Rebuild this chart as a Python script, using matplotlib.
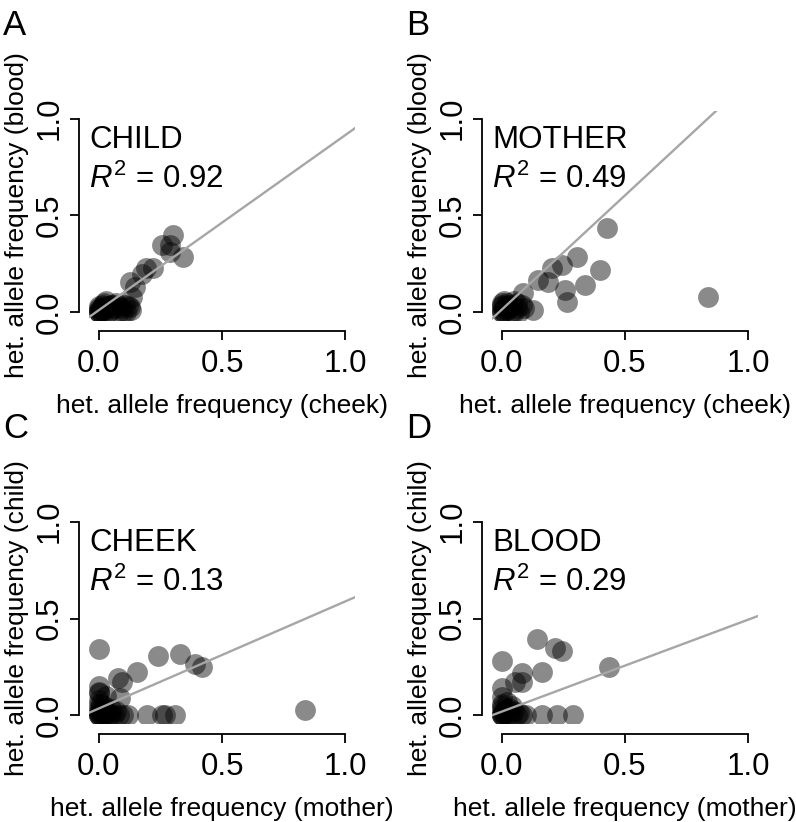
import matplotlib
matplotlib.use("Agg")
import numpy as np
import matplotlib.pyplot as plt

plt.rcParams['font.family'] = ['Liberation Sans', 'DejaVu Sans']
plt.rcParams['mathtext.fontset'] = 'custom'
plt.rcParams['mathtext.rm'] = 'Liberation Sans'
plt.rcParams['mathtext.it'] = 'Liberation Sans:italic'

# A: child, cheek vs blood
a_x = [0.30, 0.256, 0.29, 0.34, 0.29, 0.19, 0.22, 0.175, 0.126, 0.146, 0.135, 0.105, 0.126,
       0.0, 0.0, 0.01, 0.02, 0.03, 0.05, 0.06, 0.08, 0.04, 0.02, 0.0, 0.07, 0.09, 0.10, 0.0,
       0.01, 0.12, 0.13, 0.03, 0.05, 0.015, 0.0, 0.0, 0.01, 0.02, 0.04, 0.06, 0.08, 0.11]
a_y = [0.40, 0.347, 0.35, 0.285, 0.31, 0.23, 0.23, 0.20, 0.155, 0.13, 0.078, 0.036, 0.026,
       0.0, 0.0, 0.02, 0.05, 0.06, 0.04, 0.02, 0.0, 0.0, 0.01, 0.03, 0.05, 0.02, 0.0, 0.01,
       0.0, 0.03, 0.01, 0.03, 0.01, 0.04, 0.0, 0.02, 0.01, 0.0, 0.03, 0.04, 0.03, 0.0]

# B: mother, cheek vs blood
b_x = [0.427, 0.305, 0.244, 0.203, 0.146, 0.187, 0.398, 0.337, 0.256, 0.264, 0.837, 0.085,
       0.0, 0.0, 0.01, 0.02, 0.03, 0.05, 0.06, 0.08, 0.04, 0.0, 0.02, 0.07, 0.09, 0.126,
       0.01, 0.05, 0.03, 0.0, 0.0, 0.01, 0.02, 0.04, 0.06, 0.0]
b_y = [0.435, 0.285, 0.244, 0.228, 0.166, 0.155, 0.218, 0.14, 0.114, 0.052, 0.078, 0.10,
       0.0, 0.03, 0.0, 0.05, 0.02, 0.06, 0.02, 0.04, 0.0, 0.01, 0.03, 0.0, 0.02, 0.01,
       0.06, 0.0, 0.04, 0.05, 0.0, 0.02, 0.01, 0.03, 0.05, 0.04]

# C: cheek, mother vs child
c_x = [0.0, 0.24, 0.33, 0.39, 0.42, 0.154, 0.077, 0.093, 0.085, 0.837,
       0.0, 0.02, 0.04, 0.06, 0.08, 0.10, 0.12, 0.195, 0.256, 0.268, 0.309,
       0.0, 0.0, 0.0, 0.0, 0.0, 0.02, 0.05, 0.03, 0.01, 0.0, 0.01, 0.07, 0.04,
       0.0, 0.0, 0.01, 0.02, 0.03, 0.05, 0.0, 0.0]
c_y = [0.34, 0.305, 0.316, 0.263, 0.247, 0.226, 0.195, 0.174, 0.09, 0.026,
       0.0, 0.0, 0.0, 0.0, 0.0, 0.0, 0.0, 0.0, 0.0, 0.0, 0.0,
       0.15, 0.115, 0.08, 0.04, 0.01, 0.05, 0.03, 0.10, 0.02, 0.0, 0.0, 0.02, 0.01,
       0.0, 0.02, 0.06, 0.0, 0.01, 0.0, 0.12, 0.06]

# D: blood, mother vs child
d_x = [0.142, 0.215, 0.244, 0.0, 0.163, 0.081, 0.053, 0.081, 0.435, 0.0, 0.0,
       0.0, 0.02, 0.04, 0.06, 0.08, 0.10, 0.163, 0.224, 0.29,
       0.0, 0.0, 0.01, 0.03, 0.05, 0.02, 0.07, 0.0, 0.04, 0.01,
       0.0, 0.0, 0.01, 0.02, 0.03, 0.0]
d_y = [0.395, 0.35, 0.33, 0.28, 0.226, 0.22, 0.174, 0.174, 0.247, 0.142, 0.095,
       0.0, 0.0, 0.0, 0.0, 0.0, 0.0, 0.0, 0.0, 0.0,
       0.06, 0.03, 0.01, 0.04, 0.02, 0.07, 0.01, 0.0, 0.05, 0.02,
       0.0, 0.01, 0.0, 0.03, 0.0, 0.05]

# regression lines (intercept, slope) and R^2
fits = [(0.011, 0.904), (0.014, 1.18), (0.035, 0.553), (0.019, 0.475)]
r2 = ["0.92", "0.49", "0.13", "0.29"]
names = ["CHILD", "MOTHER", "CHEEK", "BLOOD"]
letters = ["A", "B", "C", "D"]
xlabels = ["het. allele frequency (cheek)", "het. allele frequency (cheek)",
           "het. allele frequency (mother)", "het. allele frequency (mother)"]
ylabels = ["het. allele frequency (blood)", "het. allele frequency (blood)",
           "het. allele frequency (child)", "het. allele frequency (child)"]
ticks = [0.0, 0.5, 1.0]
tick_labels = ["0.0", "0.5", "1.0"]

xs = [a_x, b_x, c_x, d_x]
ys = [a_y, b_y, c_y, d_y]

W, H = 796, 822
fig = plt.figure(figsize=(W / 100, H / 100), dpi=100)

for i in range(4):
    col, row = i % 2, i // 2
    left = (89 + 403 * col) / W
    bottom = (822 - 320 - 403 * row) / H
    ax = fig.add_axes([left, bottom, 266 / W, 209 / H])
    ax.set_xlim(-0.04, 1.04)
    ax.set_ylim(-0.04, 1.04)

    ax.scatter(xs[i], ys[i], s=225, color='black', alpha=0.46, linewidths=0, zorder=2)
    b, m = fits[i]
    ax.axline((0, b), slope=m, color='#a6a6a6', lw=1.7, zorder=3)

    for s in ['top', 'right']:
        ax.spines[s].set_visible(False)
    ax.spines['left'].set_position(('outward', 7.2))
    ax.spines['bottom'].set_position(('outward', 7.9))
    ax.spines['left'].set_bounds(0, 1)
    ax.spines['bottom'].set_bounds(0, 1)
    ax.spines['left'].set_linewidth(1.3)
    ax.spines['bottom'].set_linewidth(1.3)

    ax.set_xticks(ticks)
    ax.set_xticklabels(tick_labels)
    ax.set_yticks(ticks)
    ax.set_yticklabels(tick_labels, rotation=90, va='center')
    ax.tick_params(length=6.5, width=1.3, labelsize=22.5)
    ax.tick_params(axis='x', pad=6.5)
    ax.tick_params(axis='y', pad=4)

    ax.set_xlabel(xlabels[i], fontsize=19, labelpad=10.5)
    ax.set_ylabel(ylabels[i], fontsize=19, labelpad=4)

    ax.text(0.0, 0.823, names[i], transform=ax.transAxes, fontsize=22.5, va='baseline')
    ax.text(0.0, 0.632, r'$R^2$' + ' = ' + r2[i], transform=ax.transAxes,
            fontsize=22.5, va='baseline')

    fig.text((3 + 403 * col) / W, 1 - (35 + 403 * row) / H, letters[i],
             fontsize=25, va='baseline', ha='left')

fig.savefig("out.png", dpi=100)
